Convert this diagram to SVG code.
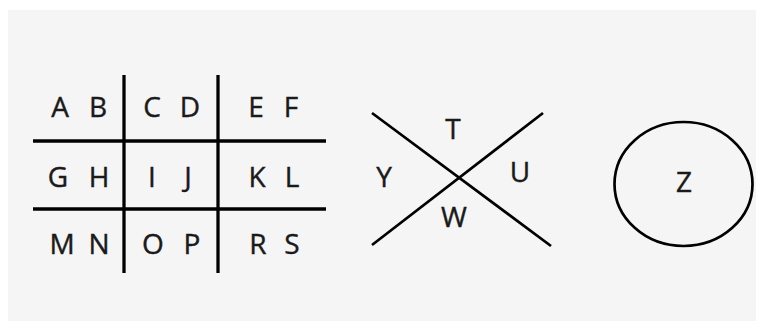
<svg xmlns="http://www.w3.org/2000/svg" width="757" height="327" viewBox="0 0 757 327">
<style>
.ln{stroke:#000;fill:none;stroke-linecap:butt}
.g{stroke-width:3.3}
.x{stroke-width:2.7}
.t{font-family:"Open Sans","Liberation Sans",sans-serif;font-size:28px;fill:#1a1a1a;stroke:#1a1a1a;stroke-width:0.4;text-anchor:middle}
</style>
<rect x="0" y="0" width="757" height="327" fill="#ffffff"/>
<rect x="8" y="10" width="748" height="311" fill="#f5f5f5"/>
<g id="grid">
<line class="ln g" x1="124" y1="75" x2="124" y2="273"/>
<line class="ln g" x1="218" y1="75" x2="218" y2="273"/>
<line class="ln g" x1="33" y1="141" x2="326" y2="141"/>
<line class="ln g" x1="33" y1="209" x2="326" y2="209"/>
<text class="t" x="60" y="117">A</text>
<text class="t" x="98" y="117">B</text>
<text class="t" x="152" y="117">C</text>
<text class="t" x="190" y="117">D</text>
<text class="t" x="256" y="117">E</text>
<text class="t" x="291" y="117">F</text>
<text class="t" x="58" y="187">G</text>
<text class="t" x="99" y="187">H</text>
<text class="t" x="152" y="187">I</text>
<text class="t" x="188" y="187">J</text>
<text class="t" x="257" y="187">K</text>
<text class="t" x="292" y="187">L</text>
<text class="t" x="62" y="254">M</text>
<text class="t" x="99" y="254">N</text>
<text class="t" x="153" y="254">O</text>
<text class="t" x="192" y="254">P</text>
<text class="t" x="258" y="254">R</text>
<text class="t" x="292" y="254">S</text>
</g>
<g id="cross">
<line class="ln x" x1="372" y1="113" x2="551" y2="246"/>
<line class="ln x" x1="543" y1="113" x2="372" y2="245"/>
<text class="t" x="453" y="139">T</text>
<text class="t" x="384" y="187">Y</text>
<text class="t" x="520" y="182">U</text>
<text class="t" x="454" y="227">W</text>
</g>
<g id="circle">
<ellipse class="ln x" cx="683.5" cy="184" rx="69" ry="62"/>
<text class="t" x="684" y="192">Z</text>
</g>
</svg>
